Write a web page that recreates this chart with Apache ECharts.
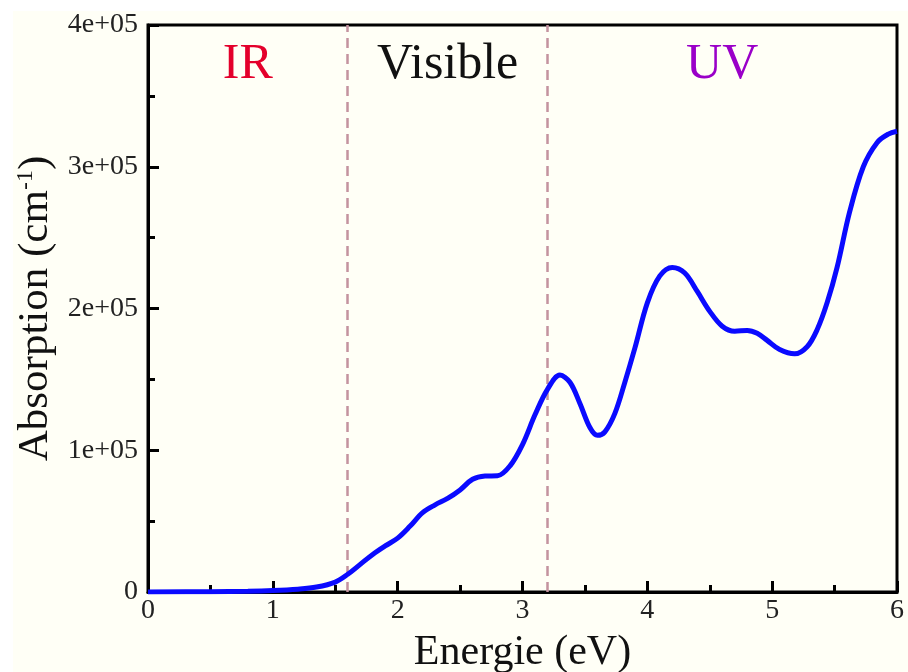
<!DOCTYPE html>
<html>
<head>
<meta charset="utf-8">
<script src="https://cdn.jsdelivr.net/npm/echarts@6/dist/echarts.min.js"></script>
<style>
  html, body { margin: 0; padding: 0; background: #ffffff; }
  #wrap { position: relative; width: 908px; height: 672px; overflow: hidden; }
  #paper { position: absolute; left: 13px; top: 11px; right: 0; bottom: 0; background: #fffff6; }
  #chart { position: absolute; left: 0; top: 0; width: 908px; height: 672px; }
</style>
</head>
<body>
<div id="wrap">
  <div id="paper"></div>
  <div id="chart"></div>
</div>
<script>
// Photon energy (eV) and absorption coefficient (cm^-1)
const energy = [0, 0.5, 0.8, 1.0, 1.2, 1.35, 1.5, 1.6, 1.7, 1.8, 1.9, 2.0, 2.1, 2.2, 2.3, 2.4, 2.5, 2.6, 2.7, 2.8, 2.9, 3.0, 3.1, 3.2, 3.3, 3.38, 3.46, 3.54, 3.6, 3.66, 3.74, 3.82, 3.9, 4.0, 4.1, 4.2, 4.3, 4.4, 4.5, 4.6, 4.7, 4.8, 4.88, 4.96, 5.06, 5.18, 5.28, 5.36, 5.44, 5.52, 5.62, 5.73, 5.84, 5.93, 6.0];
const absorption = [0, 200, 500, 1000, 2000, 3500, 7000, 12500, 19500, 26500, 32500, 38000, 46500, 56000, 61500, 66000, 72000, 79500, 81800, 82000, 89000, 104000, 125000, 143000, 153000, 148000, 133000, 116000, 110500, 113000, 126000, 148000, 172000, 204000, 223000, 229000, 225000, 212000, 198000, 187500, 184000, 184500, 182500, 177500, 171000, 168000, 173000, 185000, 204000, 229000, 268000, 300000, 317000, 323000, 325000];

// Spectral region boundaries (eV) and their names
const regionEdges = [0, 1.6, 3.2, 6];
const regionNames = ['IR', 'Visible', 'UV'];
const regionColors = ['#e4002b', '#111111', '#9a00c8'];

const xTicks = [0, 1, 2, 3, 4, 5, 6];
const yTicks = [0, 100000, 200000, 300000, 400000];

const serif = 'Liberation Serif';

const points = energy.map((e, i) => [e, absorption[i]]);

const boundaryLines = regionEdges.slice(1, -1).map(v => ({ xAxis: v }));

const areas = regionNames.map((name, i) => [
  {
    xAxis: regionEdges[i],
    name: name,
    label: { color: regionColors[i] }
  },
  { xAxis: regionEdges[i + 1] }
]);

const chart = echarts.init(document.getElementById('chart'), null, { renderer: 'canvas' });

chart.setOption({
  backgroundColor: 'transparent',
  animation: false,
  grid: {
    left: 148, right: 11, top: 25, bottom: 80,
    outerBoundsMode: 'none',
    containLabel: false,
    show: true, borderColor: '#000', borderWidth: 3, backgroundColor: 'transparent'
  },
  xAxis: {
    type: 'value',
    min: xTicks[0], max: xTicks[xTicks.length - 1], interval: 1,
    name: 'Energie (eV)',
    nameLocation: 'middle',
    nameGap: 40,
    nameTextStyle: { fontFamily: serif, fontSize: 42, color: '#111' },
    axisLine: { show: true, onZero: false, lineStyle: { color: '#000', width: 3 } },
    axisTick: { show: true, inside: true, length: 11, lineStyle: { color: '#000', width: 3 } },
    minorTick: { show: true, splitNumber: 2, length: 7, lineStyle: { color: '#000', width: 3 } },
    axisLabel: { fontFamily: serif, fontSize: 28, color: '#222', margin: 5 },
    splitLine: { show: false }
  },
  yAxis: {
    type: 'value',
    min: yTicks[0], max: yTicks[yTicks.length - 1], interval: 100000,
    name: 'Absorption (cm{sup|-1})',
    nameLocation: 'middle',
    nameGap: 90,
    nameTextStyle: {
      fontFamily: serif, fontSize: 43, color: '#111',
      rich: { sup: { fontFamily: serif, fontSize: 24, color: '#111', verticalAlign: 'top', lineHeight: 43 } }
    },
    axisLine: { show: true, lineStyle: { color: '#000', width: 3 } },
    axisTick: { show: true, inside: true, length: 11, lineStyle: { color: '#000', width: 3 } },
    minorTick: { show: true, splitNumber: 2, length: 7, lineStyle: { color: '#000', width: 3 } },
    axisLabel: {
      fontFamily: serif, fontSize: 28, color: '#222', margin: 10,
      formatter: v => v === 0 ? '0' : (v / 100000) + 'e+05'
    },
    splitLine: { show: false }
  },
  series: [{
    type: 'line',
    data: points,
    smooth: 0.35,
    showSymbol: false,
    symbol: 'none',
    lineStyle: { color: '#0a0aff', width: 5 },
    z: 3,
    markLine: {
      silent: true,
      symbol: 'none',
      label: { show: false },
      lineStyle: { color: '#c4939e', width: 2.5, type: [10, 6] },
      data: boundaryLines,
      z: 2
    },
    markArea: {
      silent: true,
      itemStyle: { color: 'rgba(0,0,0,0)' },
      label: {
        show: true,
        position: 'insideTop',
        distance: 15,
        fontFamily: serif,
        fontSize: 50
      },
      data: areas
    }
  }]
});
</script>
</body>
</html>
